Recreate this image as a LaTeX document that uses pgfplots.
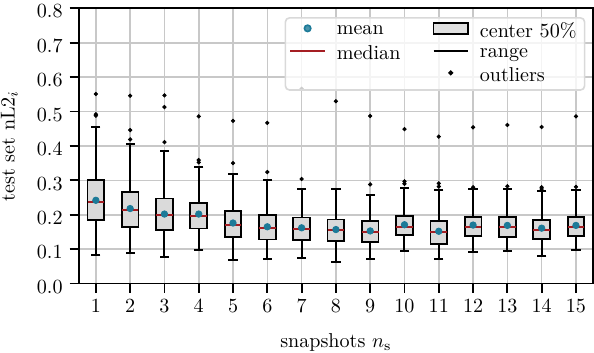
\documentclass[border=0pt]{standalone}
\usepackage{pgfplots}
\usepackage{pgfplotstable}
\pgfplotsset{compat=1.18}
\definecolor{meanblue}{RGB}{28,122,152}
\definecolor{medred}{RGB}{165,30,35}
\definecolor{boxgray}{RGB}{218,218,218}
\definecolor{gridgray}{RGB}{200,200,200}

% lower whisker, quartiles, median, upper whisker, mean per snapshot count
\pgfplotstableread{
x  lw    q1    med   q3    uw    mean
1  0.082 0.184 0.237 0.300 0.456 0.242
2  0.088 0.165 0.215 0.266 0.405 0.218
3  0.076 0.155 0.199 0.247 0.384 0.202
4  0.097 0.160 0.197 0.235 0.339 0.202
5  0.068 0.135 0.171 0.210 0.318 0.176
6  0.070 0.128 0.161 0.199 0.300 0.165
7  0.075 0.126 0.160 0.192 0.276 0.162
8  0.062 0.123 0.155 0.186 0.274 0.157
9  0.071 0.120 0.151 0.183 0.258 0.153
10 0.095 0.140 0.165 0.196 0.278 0.171
11 0.072 0.114 0.150 0.182 0.271 0.152
12 0.092 0.139 0.165 0.194 0.276 0.170
13 0.095 0.136 0.165 0.194 0.276 0.169
14 0.080 0.130 0.157 0.184 0.268 0.161
15 0.097 0.138 0.163 0.193 0.271 0.169
}\boxdata

\pgfplotstableread{
x  y
1  0.551
1  0.492
1  0.488
2  0.546
2  0.446
2  0.419
3  0.547
3  0.513
3  0.411
4  0.486
4  0.359
4  0.352
5  0.473
5  0.350
6  0.467
6  0.324
7  0.566
7  0.304
8  0.530
9  0.487
9  0.288
10 0.449
10 0.297
10 0.290
11 0.427
11 0.291
11 0.282
12 0.454
12 0.280
13 0.461
13 0.283
14 0.455
14 0.280
14 0.275
15 0.486
15 0.281
}\outliers

\begin{document}
\begin{tikzpicture}
\begin{axis}[
  scale only axis,
  width=256pt, height=137pt,
  xmin=0.5, xmax=15.5,
  ymin=0, ymax=0.8,
  xtick={1,2,3,4,5,6,7,8,9,10,11,12,13,14,15},
  ytick={0,0.1,0.2,0.3,0.4,0.5,0.6,0.7,0.8},
  yticklabel style={/pgf/number format/fixed, /pgf/number format/fixed zerofill,
    /pgf/number format/precision=1, inner ysep=2.5pt, yshift=-1.6pt},
  grid=major,
  major grid style={gridgray, line width=0.8pt},
  tick align=outside,
  major tick length=4.5pt,
  every tick/.style={black, line width=0.9pt},
  axis line style={line width=0.9pt},
  xtick pos=bottom, ytick pos=left,
  xlabel={snapshots $n_\mathrm{s}$},
  ylabel={test set nL2$_i$},
  xlabel style={inner ysep=0.5pt, yshift=-6.5pt},
  ylabel style={inner ysep=0.5pt, yshift=5.5pt},
  legend columns=2,
  legend cell align=left,
  legend image post style={yshift=1.8pt},
  legend style={at={(0.985,0.968)}, anchor=north east, draw=gray!30, line width=0.8pt,
    rounded corners=2pt, fill=white, fill opacity=0.8, text opacity=1,
    row sep=-1.5pt, inner ysep=0.5pt, inner xsep=2pt,
    /tikz/every odd column/.append style={column sep=3.5pt},
    /tikz/every even column/.append style={column sep=14pt}},
]
% whiskers (range)
\addplot[forget plot, draw=none, mark=none,
  error bars/.cd, y dir=both, y explicit, error mark=none,
  error bar style={draw=black, solid, line width=1pt}]
  table[x=x, y=med, y error plus expr=\thisrow{uw}-\thisrow{med},
        y error minus expr=\thisrow{med}-\thisrow{lw}] {\boxdata};
\addplot[forget plot, only marks, mark=-, mark size=2.3pt, mark options={black, line width=1pt}]
  table[x=x, y=lw] {\boxdata};
\addplot[forget plot, only marks, mark=-, mark size=2.3pt, mark options={black, line width=1pt}]
  table[x=x, y=uw] {\boxdata};
% boxes (center 50%): black wide bar, gray narrower bar on top, black ends
\addplot[forget plot, draw=none, mark=none,
  error bars/.cd, y dir=both, y explicit, error mark=none,
  error bar style={draw=black, solid, line width=9.2pt}]
  table[x=x, y=med, y error plus expr=\thisrow{q3}-\thisrow{med},
        y error minus expr=\thisrow{med}-\thisrow{q1}] {\boxdata};
\addplot[forget plot, draw=none, mark=none,
  error bars/.cd, y dir=both, y explicit, error mark=none,
  error bar style={draw=boxgray, solid, line width=7.4pt}]
  table[x=x, y=med, y error plus expr=\thisrow{q3}-\thisrow{med},
        y error minus expr=\thisrow{med}-\thisrow{q1}] {\boxdata};
\addplot[forget plot, only marks, mark=-, mark size=4.6pt, mark options={black, line width=0.9pt}]
  table[x=x, y=q1] {\boxdata};
\addplot[forget plot, only marks, mark=-, mark size=4.6pt, mark options={black, line width=0.9pt}]
  table[x=x, y=q3] {\boxdata};
% medians
\addplot[forget plot, only marks, mark=-, mark size=4.15pt, mark options={medred, line width=1pt}]
  table[x=x, y=med] {\boxdata};
% means
\addplot[forget plot, only marks, mark=*, mark size=1.6pt, color=meanblue]
  table[x=x, y=mean] {\boxdata};
% outliers
\addplot[forget plot, only marks, mark=*, mark size=0.85pt, black]
  table[x=x, y=y] {\outliers};
% legend
\addlegendimage{only marks, mark=*, mark size=1.6pt, color=meanblue}
\addlegendentry{mean}
\addlegendimage{legend image code/.code={\draw[sharp corners, fill=boxgray, draw=black, line width=0.9pt] (0pt,-2.8pt) rectangle (17pt,2.8pt);}}
\addlegendentry{center 50\%}
\addlegendimage{medred, line width=1pt}
\addlegendentry{median}
\addlegendimage{black, line width=1pt}
\addlegendentry{range}
\addlegendimage{empty legend}
\addlegendentry{}
\addlegendimage{only marks, mark=*, mark size=0.85pt, black}
\addlegendentry{outliers}
\end{axis}
\end{tikzpicture}
\end{document}
